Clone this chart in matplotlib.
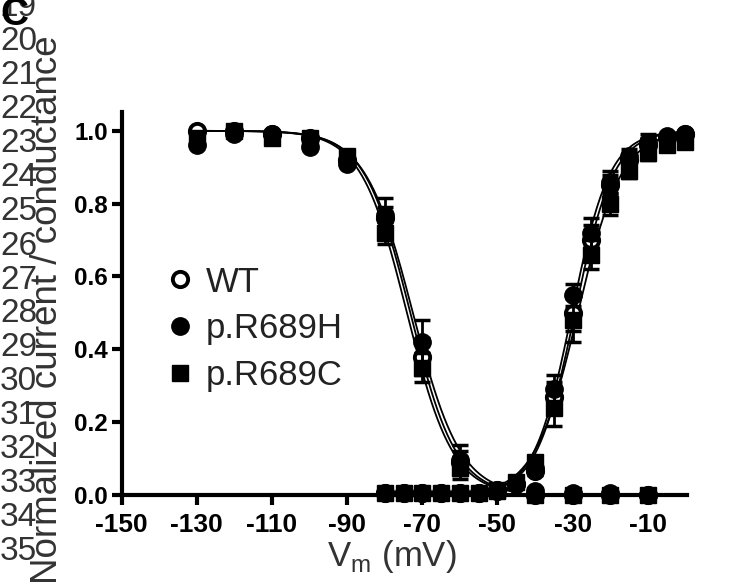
import numpy as np
import matplotlib
matplotlib.use('Agg')
import matplotlib.pyplot as plt
from matplotlib.lines import Line2D

plt.rcParams['font.family'] = ['Liberation Sans', 'DejaVu Sans']
plt.rcParams['axes.unicode_minus'] = False

##############################################
# Data
# Steady-state inactivation (10 mV steps)
v_inact = [-130, -120, -110, -100, -90, -80, -70, -60, -50, -40, -30, -20, -10]
inact_wt = [1.00, 1.00, 0.99, 0.98, 0.92, 0.76, 0.38, 0.090, 0.012, 0.0, 0.0, 0.0, 0.0]
inact_h = [0.96, 0.99, 0.99, 0.955, 0.91, 0.77, 0.42, 0.096, 0.010, 0.01, 0.005, 0.005, 0.0]
inact_c = [0.98, 1.00, 0.98, 0.98, 0.93, 0.72, 0.35, 0.075, 0.010, 0.0, 0.0, 0.0, 0.0]
inact_err_wt = [0, 0, 0, 0, 0, 0.03, 0.05, 0.03, 0, 0, 0, 0, 0]
inact_err_h = [0, 0, 0, 0, 0, 0.045, 0.06, 0.04, 0, 0, 0, 0, 0]
inact_err_c = [0, 0, 0, 0, 0, 0.03, 0.04, 0.03, 0, 0, 0, 0, 0]

# Activation (5 mV steps)
v_act = [-80, -75, -70, -65, -60, -55, -50, -45, -40, -35, -30, -25, -20, -15, -10, -5, 0]
act_wt = [0.005, 0.005, 0.005, 0.005, 0.005, 0.005, 0.015, 0.03, 0.065, 0.27, 0.50, 0.70, 0.85, 0.92, 0.96, 0.98, 0.99]
act_h = [0.005, 0.005, 0.005, 0.005, 0.005, 0.005, 0.015, 0.03, 0.075, 0.29, 0.55, 0.72, 0.86, 0.93, 0.97, 0.985, 0.99]
act_c = [0.005, 0.005, 0.005, 0.005, 0.005, 0.005, 0.015, 0.035, 0.09, 0.24, 0.48, 0.66, 0.80, 0.89, 0.94, 0.96, 0.97]
act_err_wt = [0, 0, 0, 0, 0, 0, 0, 0, 0.01, 0.04, 0.05, 0.04, 0.03, 0.02, 0.02, 0, 0]
act_err_h = [0, 0, 0, 0, 0, 0, 0, 0, 0.01, 0.04, 0.03, 0.04, 0.03, 0.02, 0.02, 0, 0]
act_err_c = [0, 0, 0, 0, 0, 0, 0, 0, 0.01, 0.05, 0.06, 0.04, 0.03, 0.02, 0.02, 0, 0]

labels = ['WT', 'p.R689H', 'p.R689C']


def fit_boltzmann(v, y, sign):
    # crude grid-search Boltzmann fit: y = 1 / (1 + exp(sign * (v - vh) / k))
    v = np.asarray(v, float)
    y = np.asarray(y, float)
    best = None
    for vh in np.arange(-90, -10, 0.1):
        for k in np.arange(3, 10, 0.05):
            err = np.sum((y - 1 / (1 + np.exp(sign * (v - vh) / k))) ** 2)
            if best is None or err < best[0]:
                best = (err, vh, k)
    return best[1], best[2]


fig = plt.figure(figsize=(7.49, 5.85), dpi=100)
ax = fig.add_axes([0.1625, 0.1538, 0.7545, 0.655])

# Fitted curves
vv_inact = np.linspace(-130, -45, 200)
vv_act = np.linspace(-55, 0, 200)
for ydata in [inact_wt, inact_h, inact_c]:
    vh, k = fit_boltzmann(v_inact, ydata, 1)
    ax.plot(vv_inact, 1 / (1 + np.exp((vv_inact - vh) / k)), color='black', lw=1.3, zorder=2)
for ydata in [act_wt, act_h, act_c]:
    vh, k = fit_boltzmann(v_act, ydata, -1)
    ax.plot(vv_act, 1 / (1 + np.exp(-(vv_act - vh) / k)), color='black', lw=1.3, zorder=2)

styles = [
    dict(marker='o', mfc='white', mec='black', mew=2.8, ms=11),
    dict(marker='o', mfc='black', mec='black', mew=1, ms=12.5),
    dict(marker='s', mfc='black', mec='black', mew=1, ms=11.5),
]
inact_sets = [(inact_wt, inact_err_wt), (inact_h, inact_err_h), (inact_c, inact_err_c)]
act_sets = [(act_wt, act_err_wt), (act_h, act_err_h), (act_c, act_err_c)]

# WT underneath, then squares, then filled circles
for idx, z in [(0, 3), (2, 4), (1, 5)]:
    for vx, (yv, ye) in [(v_inact, inact_sets[idx]), (v_act, act_sets[idx])]:
        eb = ax.errorbar(vx, yv, yerr=ye, fmt='none', ecolor='black', elinewidth=2,
                         capsize=6, capthick=2.5, zorder=z)
        for art in eb.lines[1] + eb.lines[2]:
            art.set_clip_on(False)
        ax.plot(vx, yv, ls='none', zorder=z + 0.5, clip_on=False, **styles[idx])

ax.set_xlim(-150, 0.4)
ax.set_ylim(0, 1.052)
ax.set_xticks(np.arange(-150, 0, 20))
ax.set_yticks(np.arange(0, 1.01, 0.2))
ax.set_yticklabels(['%.1f' % t for t in np.arange(0, 1.01, 0.2)])
for side in ['top', 'right']:
    ax.spines[side].set_visible(False)
for side in ['left', 'bottom']:
    ax.spines[side].set_linewidth(3)
ax.tick_params(axis='both', direction='out', length=7, width=3, pad=3)
ax.tick_params(axis='x', labelsize=19, pad=6)
ax.tick_params(axis='y', labelsize=17.5)
for lab in ax.get_xticklabels() + ax.get_yticklabels():
    lab.set_fontweight('bold')

ax.set_xlabel('V$_\\mathregular{m}$ (mV)', fontsize=25, color='#333333', labelpad=2)
ax.xaxis.set_label_coords(0.478, -0.112)
fig.text(0.063, 0.47, 'Normalized current / conductance', rotation=90, fontsize=26.5,
         color='#333333', ha='center', va='center')

handles = [Line2D([], [], ls='none', **styles[i]) for i in range(3)]
leg = ax.legend(handles, labels, loc='upper left', bbox_to_anchor=(0.048, 0.635), frameon=False,
                fontsize=25, handletextpad=0.25, labelspacing=0.4, handlelength=1.0,
                borderaxespad=0)
for t in leg.get_texts():
    t.set_color('#222222')

# manuscript line numbers and panel letter
for n in range(19, 36):
    y_px = 8 + (n - 19) * 34
    fig.text(0.0, 1 - y_px / 585.0, str(n), fontsize=24, color='#333333', ha='left', va='center')
fig.text(0.0, 1.005, 'C', fontsize=28, fontweight='bold', ha='left', va='top', color='black')

fig.savefig('out.png', dpi=100)
